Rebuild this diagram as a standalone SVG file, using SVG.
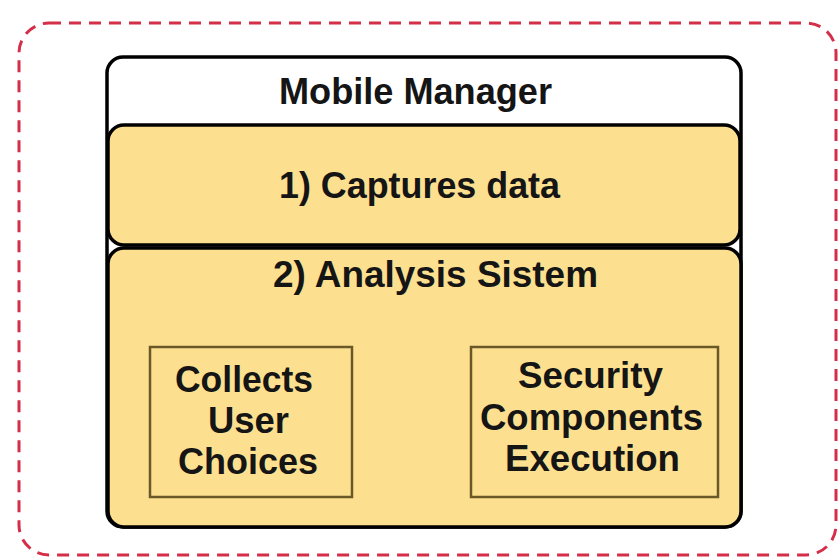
<svg xmlns="http://www.w3.org/2000/svg" width="840" height="560" viewBox="0 0 840 560">
<style>
.t{font-family:"Liberation Sans",Arial,sans-serif;font-weight:bold;font-size:36px;fill:#151515;text-anchor:middle}
.main{fill:#fce08f;stroke:#000;stroke-width:3.5}
.inner{fill:#fce08f;stroke:#6b5828;stroke-width:2.5}
</style>
<rect width="840" height="560" fill="#ffffff"/>
<g id="frame">
<rect x="19" y="23" width="817" height="532" rx="30" fill="none" stroke="#d42e48" stroke-width="3" stroke-dasharray="12 8"/>
</g>
<g id="mobile-manager">
<rect x="107" y="57" width="634" height="470" rx="16" fill="#ffffff" stroke="#000" stroke-width="3.5"/>
<text class="t" x="415.5" y="104" textLength="273" lengthAdjust="spacingAndGlyphs">Mobile Manager</text>
</g>
<g id="captures-data">
<rect class="main" x="108" y="125" width="632" height="120" rx="16"/>
<text class="t" x="419.5" y="198" textLength="281" lengthAdjust="spacingAndGlyphs">1) Captures data</text>
</g>
<g id="analysis-system">
<rect class="main" x="108" y="248" width="633" height="279" rx="16"/>
<text class="t" x="435.5" y="287" textLength="325" lengthAdjust="spacingAndGlyphs">2) Analysis Sistem</text>
</g>
<g id="collects-user-choices">
<rect class="inner" x="150" y="347" width="202" height="150"/>
<text class="t" x="244" y="392" textLength="138" lengthAdjust="spacingAndGlyphs">Collects</text>
<text class="t" x="248.5" y="433" textLength="81" lengthAdjust="spacingAndGlyphs">User</text>
<text class="t" x="248" y="474" textLength="140" lengthAdjust="spacingAndGlyphs">Choices</text>
</g>
<g id="security-components">
<rect class="inner" x="471" y="347" width="247" height="150"/>
<text class="t" x="590.5" y="388" textLength="145" lengthAdjust="spacingAndGlyphs">Security</text>
<text class="t" x="591.5" y="430" textLength="223" lengthAdjust="spacingAndGlyphs">Components</text>
<text class="t" x="592.5" y="471" textLength="175" lengthAdjust="spacingAndGlyphs">Execution</text>
</g>
<g id="connectors"></g>
</svg>
